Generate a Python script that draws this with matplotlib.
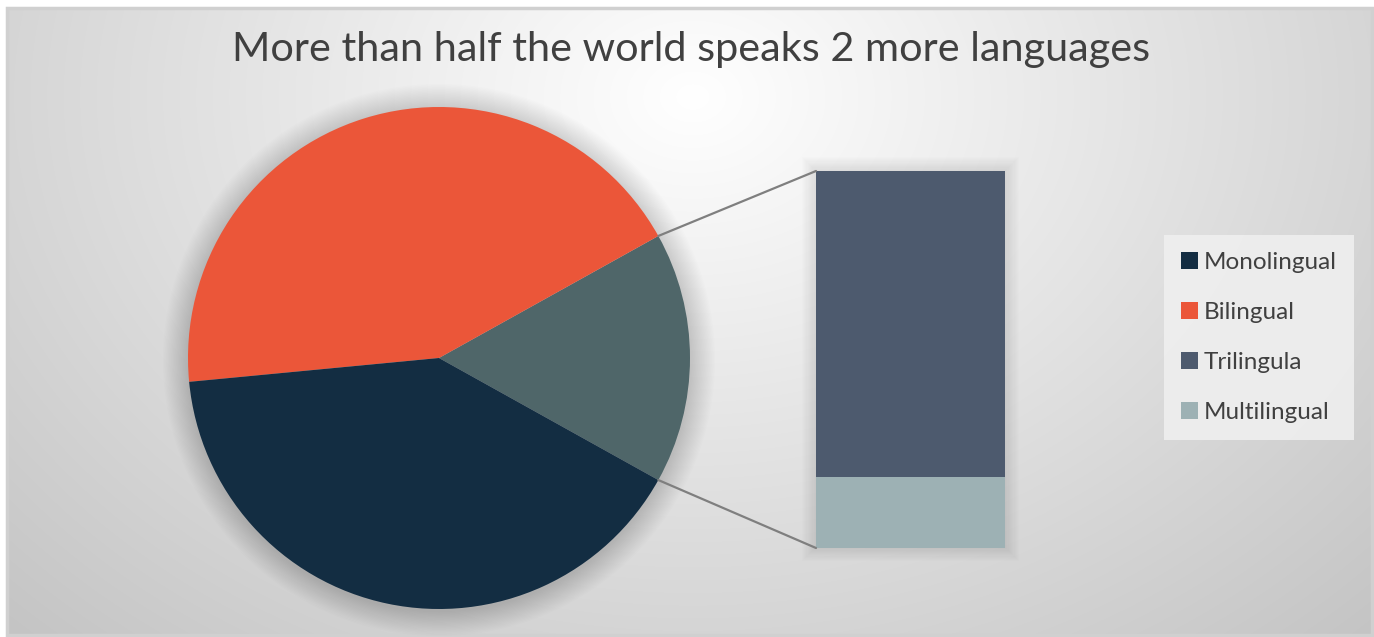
import numpy as np
import matplotlib
matplotlib.use("Agg")
import matplotlib.pyplot as plt
from matplotlib.patches import Patch, Rectangle, Circle
from matplotlib.patches import ConnectionPatch

# ---- data ----
title = "More than half the world speaks 2 more languages"
pie_labels = ["Monolingual", "Bilingual"]
pie_values = [40, 43]
bar_labels = ["Trilingula", "Multilingual"]
bar_values = [13, 3]
legend_labels = ["Monolingual", "Bilingual", "Trilingula", "Multilingual"]

col_mono = "#132d42"
col_bi = "#eb5639"
col_other = "#4f6669"
col_tri = "#4d5a6e"
col_multi = "#9db1b4"
legend_colors = [col_mono, col_bi, col_tri, col_multi]

plt.rcParams['font.family'] = ['Lato', 'DejaVu Sans']

W, H = 1374, 637
fig = plt.figure(figsize=(W / 100, H / 100), dpi=100)
fig.patch.set_facecolor("white")

# background gradient
bg = fig.add_axes([7 / W, 2 / H, (W - 9) / W, (H - 10) / H])
bg.set_zorder(-10)
yy, xx = np.mgrid[0:H, 0:W]
cx, cy = 690, 90
r = np.sqrt(((xx - cx) / 800.0) ** 2 + ((yy - cy) / 620.0) ** 2)
val = np.clip(255 - 48 * r, 0, 255) / 255.0
img = np.dstack([val, val, val])
bg.imshow(img, aspect="auto", extent=[0, 1, 0, 1], origin="upper")
bg.set_xlim(0, 1)
bg.set_ylim(0, 1)
bg.axis("off")
bg.add_patch(Rectangle((0, 0), 1, 1, transform=bg.transAxes, fill=False,
                       edgecolor="#d0d0d0", linewidth=2.5, clip_on=False))

# title
fig.text(691 / W, 1 - 50 / H, title, ha="center", va="center",
         fontsize=29.8, color="#404040")

# pie
pcx, pcy, pr = 439, 358, 251
pie_ax = fig.add_axes([(pcx - pr) / W, (H - pcy - pr) / H, 2 * pr / W, 2 * pr / H])
other_total = sum(bar_values)
vals = [other_total, pie_values[1], pie_values[0]]
cols = [col_other, col_bi, col_mono]
total = sum(vals)
start = -other_total / total * 360 / 2

# soft shadow
for k in range(20):
    rr = 1.0 + 0.005 * (k + 1)
    pie_ax.add_patch(Circle((0.0, -0.008), rr, facecolor="black",
                            alpha=0.008, edgecolor="none", zorder=0, clip_on=False))
wedges, _ = pie_ax.pie(vals, colors=cols, startangle=start, counterclock=True,
                       radius=1.0, wedgeprops=dict(linewidth=0, zorder=2))
pie_ax.set_xlim(-1, 1)
pie_ax.set_ylim(-1, 1)
pie_ax.set_aspect("equal")
pie_ax.axis("off")

# bar
bx0, bx1, by0, by1 = 816, 1005, 171, 548
bar_ax = fig.add_axes([bx0 / W, (H - by1) / H, (bx1 - bx0) / W, (by1 - by0) / H])
bottom = 0
for v, c in zip(bar_values[::-1], [col_multi, col_tri]):
    bar_ax.bar(0, v, bottom=bottom, width=1.0, color=c, linewidth=0, zorder=3)
    bottom += v
bar_ax.set_xlim(-0.5, 0.5)
bar_ax.set_ylim(0, other_total)
bar_ax.axis("off")
# bar shadow (drawn in background axes, behind the bar)
for k in range(12):
    pad = 1.2 * (k + 1)
    x0 = (bx0 - pad - 7) / (W - 9)
    x1 = (bx1 + pad - 7) / (W - 9)
    y0 = (H - by1 - pad + 1 - 2) / (H - 10)
    y1 = (H - by0 + pad - 2) / (H - 10)
    bg.add_patch(Rectangle((x0, y0), x1 - x0, y1 - y0, transform=bg.transAxes,
                           facecolor="black", alpha=0.008, edgecolor="none", zorder=2))

# connector lines
ang1 = np.deg2rad(start + other_total / total * 360)
ang0 = np.deg2rad(start)
for ang, yb in [(ang1, other_total), (ang0, 0)]:
    con = ConnectionPatch(xyA=(np.cos(ang), np.sin(ang)), coordsA=pie_ax.transData,
                          xyB=(-0.5, yb), coordsB=bar_ax.transData,
                          color="#7f7f7f", linewidth=1.6, zorder=5)
    fig.add_artist(con)

# legend
handles = [Patch(facecolor=c, edgecolor="none") for c in legend_colors]
leg = fig.legend(handles, legend_labels, loc="center",
                 bbox_to_anchor=(1259 / W, 1 - 337.5 / H),
                 frameon=True, fontsize=17.5, handlelength=0.7, handleheight=0.7,
                 handletextpad=0.25, labelspacing=1.2, borderpad=0.7,
                 borderaxespad=0.0, labelcolor="#404040", fancybox=False)
leg.get_frame().set_facecolor("#efefef")
leg.get_frame().set_edgecolor("none")
leg.get_frame().set_alpha(0.9)

fig.savefig("out.png", dpi=100)
